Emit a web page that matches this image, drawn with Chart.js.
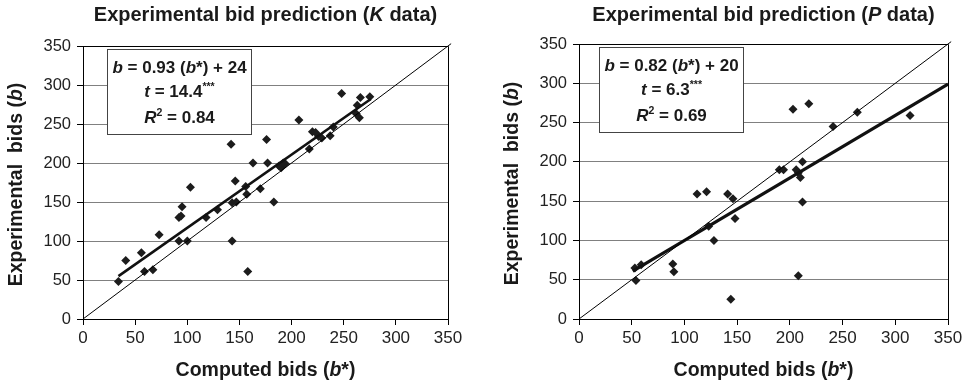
<!DOCTYPE html>
<html>
<head>
<meta charset="utf-8">
<script src="https://cdn.jsdelivr.net/npm/chart.js@4/dist/chart.umd.min.js"></script>
<style>
  body { margin: 0; background: #fff; }
  #wrap { position: relative; width: 967px; height: 381px; }
  canvas { position: absolute; top: 0; }
</style>
</head>
<body>
<div id="wrap">
  <canvas id="k-chart" width="483" height="381" style="left:0"></canvas>
  <canvas id="p-chart" width="484" height="381" style="left:483px"></canvas>
</div>
<script>
// tick labels, same on both axes of both charts
const axisTicks = [0, 50, 100, 150, 200, 250, 300, 350];

// K data: computed bid (b*) vs experimental bid (b)
const kComputed = [34, 41, 56, 59, 67, 73, 92, 92, 94, 95, 100, 103, 118, 129, 142,
  143, 143, 146, 147, 156, 157, 158, 163, 170, 176, 177, 183, 188, 190, 192,
  194, 207, 217, 220, 223, 226, 229, 237, 240, 248, 262, 263, 265, 266, 275];
const kExperimental = [48, 75, 85, 61, 63, 108, 100, 130, 132, 144, 100, 169, 130, 140, 224,
  100, 149, 177, 150, 170, 160, 61, 200, 167, 230, 200, 150, 196, 194, 200,
  199, 255, 218, 240, 239, 234, 232, 235, 246, 289, 263, 274, 258, 284, 285];
const kFitX = [34, 276];
const kFitY = [55, 282];

// P data
const pComputed = [53, 54, 59, 89, 90, 112, 121, 123, 128, 141, 144, 146, 148,
  190, 194, 203, 206, 208, 208, 210, 212, 212, 218, 241, 264, 314];
const pExperimental = [65, 49, 69, 70, 60, 159, 162, 118, 100, 159, 25, 153, 128,
  190, 190, 267, 190, 186, 55, 180, 200, 149, 274, 245, 263, 259];
const pFitX = [51, 350];
const pFitY = [61, 299];

// 45 degree reference line
const diagX = [0, 353];
const diagY = [0, 353];

const FAM = "'Liberation Sans', Arial, Helvetica, sans-serif";

function fnt(run, size) {
  return (run.i ? 'italic ' : '') + 'bold ' + size + 'px ' + FAM;
}

// draws a line of bold text with italic / superscript pieces, centred on cx
function drawRuns(ctx, runs, cx, baseY, size) {
  let total = 0;
  const widths = runs.map(r => {
    ctx.font = fnt(r, r.sup ? size * 0.62 : size);
    const w = ctx.measureText(r.t).width;
    total += w;
    return w;
  });
  let x = cx - total / 2;
  ctx.textAlign = 'left';
  ctx.textBaseline = 'alphabetic';
  runs.forEach((r, k) => {
    ctx.font = fnt(r, r.sup ? size * 0.62 : size);
    ctx.fillText(r.t, x, baseY - (r.sup ? size * 0.4 : 0));
    x += widths[k];
  });
}

function decor(cfg) {
  return {
    id: 'decor',
    afterDatasetsDraw(chart) {
      const ctx = chart.ctx;
      const a = chart.chartArea;
      ctx.save();
      // top and right frame of the plot
      ctx.strokeStyle = '#000';
      ctx.lineWidth = 1;
      ctx.beginPath();
      ctx.moveTo(Math.round(a.left) + 0.5, Math.round(a.top) + 0.5);
      ctx.lineTo(Math.round(a.right) + 0.5, Math.round(a.top) + 0.5);
      ctx.lineTo(Math.round(a.right) + 0.5, Math.round(a.bottom) + 0.5);
      ctx.stroke();

      // equation box
      const bx = Math.round(a.left + cfg.boxDx) + 0.5;
      const by = Math.round(a.top + cfg.boxDy) + 0.5;
      ctx.fillStyle = '#fff';
      ctx.fillRect(bx, by, 144, 85);
      ctx.strokeStyle = '#444';
      ctx.strokeRect(bx, by, 144, 85);
      ctx.fillStyle = '#1a1a1a';
      const base = [23, 47.5, 73];
      cfg.lines.forEach((runs, k) => drawRuns(ctx, runs, bx + 72, by + base[k], 17));

      // titles
      const mid = (a.left + a.right) / 2;
      drawRuns(ctx, cfg.title, mid, 20.5, 20);
      drawRuns(ctx, [{ t: 'Computed bids (' }, { t: 'b', i: true }, { t: '*)' }], mid, 376, 19.5);
      ctx.translate(cfg.yTitleX, (a.top + a.bottom) / 2 + 2);
      ctx.rotate(-Math.PI / 2);
      drawRuns(ctx, [{ t: 'Experimental  bids (' }, { t: 'b', i: true }, { t: ')' }], 0, 0, 19.5);
      ctx.restore();
    }
  };
}

function makeChart(id, xs, ys, fitX, fitY, fitWidth, yWidth, pad, cfg) {
  const pts = xs.map((x, i) => ({ x: x, y: ys[i] }));
  const fit = fitX.map((x, i) => ({ x: x, y: fitY[i] }));
  const diag = diagX.map((x, i) => ({ x: x, y: diagY[i] }));
  return new Chart(document.getElementById(id), {
    type: 'scatter',
    data: {
      datasets: [
        { data: diag, showLine: true, borderColor: '#000', borderWidth: 1, pointRadius: 0, clip: false },
        { data: fit, showLine: true, borderColor: '#111', borderWidth: fitWidth, pointRadius: 0 },
        { data: pts, pointStyle: 'rectRot', pointRadius: 4.5, backgroundColor: '#1c1c1c', borderWidth: 0 }
      ]
    },
    options: {
      responsive: false,
      animation: false,
      layout: { padding: pad },
      plugins: { legend: { display: false }, tooltip: { enabled: false } },
      scales: {
        x: {
          type: 'linear', min: 0, max: 350,
          afterBuildTicks: s => { s.ticks = axisTicks.map(v => ({ value: v })); },
          afterFit: s => { s.height = 62; },
          ticks: { font: { family: FAM, size: 17 }, color: '#222', padding: 3, maxRotation: 0 },
          grid: { drawOnChartArea: false, tickLength: 6, tickColor: '#000' },
          border: { color: '#000' }
        },
        y: {
          type: 'linear', min: 0, max: 350,
          afterBuildTicks: s => { s.ticks = axisTicks.map(v => ({ value: v })); },
          afterFit: s => { s.width = yWidth; },
          ticks: { font: { family: FAM, size: 16.5 }, color: '#222', padding: 6 },
          grid: { color: '#808080', tickLength: 6, tickColor: '#000' },
          border: { color: '#000' }
        }
      }
    },
    plugins: [decor(cfg)]
  });
}

makeChart('k-chart', kComputed, kExperimental, kFitX, kFitY, 2.6, 83,
  { top: 46, right: 35, bottom: 0, left: 0 },
  {
    boxDx: 24, boxDy: 2.6, yTitleX: 22,
    title: [{ t: 'Experimental bid prediction (' }, { t: 'K', i: true }, { t: ' data)' }],
    lines: [
      [{ t: 'b', i: true }, { t: ' = 0.93 (' }, { t: 'b', i: true }, { t: '*) + 24' }],
      [{ t: 't', i: true }, { t: ' = 14.4' }, { t: '***', sup: true }],
      [{ t: 'R', i: true }, { t: '2', sup: true }, { t: ' = 0.84' }]
    ]
  });

makeChart('p-chart', pComputed, pExperimental, pFitX, pFitY, 3.2, 96,
  { top: 44, right: 19, bottom: 0, left: 0 },
  {
    boxDx: 20, boxDy: 3.3, yTitleX: 34.5,
    title: [{ t: 'Experimental bid prediction (' }, { t: 'P', i: true }, { t: ' data)' }],
    lines: [
      [{ t: 'b', i: true }, { t: ' = 0.82 (' }, { t: 'b', i: true }, { t: '*) + 20' }],
      [{ t: 't', i: true }, { t: ' = 6.3' }, { t: '***', sup: true }],
      [{ t: 'R', i: true }, { t: '2', sup: true }, { t: ' = 0.69' }]
    ]
  });
</script>
</body>
</html>
